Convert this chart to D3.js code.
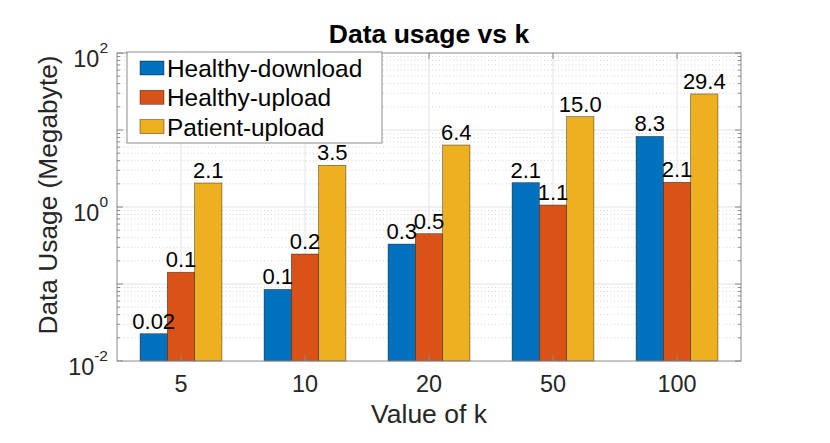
<!DOCTYPE html>
<html lang="en">
<head>
<meta charset="UTF-8">
<title>Data usage vs k</title>
<script src="https://cdnjs.cloudflare.com/ajax/libs/d3/7.8.5/d3.min.js"></script>
<style>
    body { margin: 0; padding: 0; background: #fff; }
    svg { display: block; font-family: "Liberation Sans", Arial, sans-serif; }
</style>
</head>
<body>
<div id="chart"></div>
<script>
    // values
    const categories = ["5", "10", "20", "50", "100"];
    const seriesNames = ["Healthy-download", "Healthy-upload", "Patient-upload"];
    const healthyDownload = [0.0226, 0.085, 0.33, 2.07, 8.25];
    const healthyUpload = [0.142, 0.245, 0.45, 1.06, 2.09];
    const patientUpload = [2.05, 3.47, 6.38, 14.9, 29.4];
    const downloadLabels = ["0.02", "0.1", "0.3", "2.1", "8.3"];
    const uploadLabels = ["0.1", "0.2", "0.5", "1.1", "2.1"];
    const patientLabels = ["2.1", "3.5", "6.4", "15.0", "29.4"];
    const yTickExps = [-2, 0, 2];
    const colors = ["#0072BD", "#D95319", "#EDB120"];

    const width = 830, height = 443;
    const pLeft = 117, pRight = 741, pTop = 53, pBottom = 361;

    const series = [healthyDownload, healthyUpload, patientUpload];
    const labels = [downloadLabels, uploadLabels, patientLabels];

    const svg = d3.select("#chart").append("svg")
        .attr("width", width)
        .attr("height", height);

    const x = d3.scaleBand()
        .domain(categories)
        .range([pLeft, pRight])
        .paddingInner(0)
        .paddingOuter(0.016);

    const groupW = x.step() * 0.66;
    const xs = d3.scaleBand()
        .domain(d3.range(series.length))
        .range([-groupW / 2, groupW / 2]);

    const y = d3.scaleLog()
        .domain([0.01, 100])
        .range([pBottom, pTop]);

    const cx = c => x(c) + x.bandwidth() / 2;

    // grid
    const grid = svg.append("g");
    const minor = [];
    for (let e = -2; e < 2; e++) {
        for (let m = 2; m <= 9; m++) minor.push(m * Math.pow(10, e));
    }
    grid.selectAll("line.minor").data(minor).join("line")
        .attr("class", "minor")
        .attr("x1", pLeft).attr("x2", pRight)
        .attr("y1", d => y(d)).attr("y2", d => y(d))
        .attr("stroke", "#b8b8b8")
        .attr("stroke-width", 0.6)
        .attr("stroke-dasharray", "1,2.5");
    grid.selectAll("line.major").data([0.1, 1, 10]).join("line")
        .attr("class", "major")
        .attr("x1", pLeft).attr("x2", pRight)
        .attr("y1", d => y(d)).attr("y2", d => y(d))
        .attr("stroke", "#e3e3e3")
        .attr("stroke-width", 1);
    grid.selectAll("line.vert").data(categories).join("line")
        .attr("class", "vert")
        .attr("x1", d => cx(d)).attr("x2", d => cx(d))
        .attr("y1", pTop).attr("y2", pBottom)
        .attr("stroke", "#e3e3e3")
        .attr("stroke-width", 1);

    // bars
    series.forEach((vals, si) => {
        const g = svg.append("g");
        g.selectAll("rect").data(vals).join("rect")
            .attr("x", (d, i) => cx(categories[i]) + xs(si))
            .attr("width", xs.bandwidth())
            .attr("y", d => y(d))
            .attr("height", d => pBottom - y(d))
            .attr("fill", colors[si])
            .attr("stroke", "rgba(0,0,0,0.55)")
            .attr("stroke-width", 0.7);
    });

    // axes box and ticks
    const axisColor = "#8a8a8a";
    svg.append("rect")
        .attr("x", pLeft).attr("y", pTop)
        .attr("width", pRight - pLeft).attr("height", pBottom - pTop)
        .attr("fill", "none")
        .attr("stroke", axisColor)
        .attr("stroke-width", 1);

    const ticks = svg.append("g").attr("stroke", axisColor).attr("stroke-width", 1);
    categories.forEach(c => {
        ticks.append("line").attr("x1", cx(c)).attr("x2", cx(c)).attr("y1", pBottom).attr("y2", pBottom - 6);
        ticks.append("line").attr("x1", cx(c)).attr("x2", cx(c)).attr("y1", pTop).attr("y2", pTop + 6);
    });
    yTickExps.concat([-1, 1]).forEach(e => {
        const yy = y(Math.pow(10, e));
        ticks.append("line").attr("x1", pLeft).attr("x2", pLeft + 6).attr("y1", yy).attr("y2", yy);
        ticks.append("line").attr("x1", pRight).attr("x2", pRight - 6).attr("y1", yy).attr("y2", yy);
    });
    minor.forEach(v => {
        const yy = y(v);
        ticks.append("line").attr("x1", pLeft).attr("x2", pLeft + 3).attr("y1", yy).attr("y2", yy);
        ticks.append("line").attr("x1", pRight).attr("x2", pRight - 3).attr("y1", yy).attr("y2", yy);
    });

    const textColor = "#262626";

    // x tick labels
    svg.append("g").selectAll("text").data(categories).join("text")
        .attr("x", d => cx(d))
        .attr("y", pBottom + 31)
        .attr("text-anchor", "middle")
        .attr("font-size", 23.4)
        .attr("fill", textColor)
        .text(d => d);

    // y tick labels 10^e
    const yl = svg.append("g").selectAll("text").data(yTickExps).join("text")
        .attr("x", 108)
        .attr("y", d => y(Math.pow(10, d)) + 14)
        .attr("text-anchor", "end")
        .attr("font-size", 23.4)
        .attr("fill", textColor);
    yl.append("tspan").text("10");
    yl.append("tspan")
        .attr("font-size", 15.5)
        .attr("dy", -14)
        .text(d => d);

    // bar value labels
    series.forEach((vals, si) => {
        svg.append("g").selectAll("text").data(vals).join("text")
            .attr("x", (d, i) => cx(categories[i]) + xs(si) + xs.bandwidth() / 2)
            .attr("y", d => y(d) - 5)
            .attr("text-anchor", "middle")
            .attr("font-size", 22)
            .attr("fill", "#000")
            .text((d, i) => labels[si][i]);
    });

    // axis titles
    svg.append("text")
        .attr("x", (pLeft + pRight) / 2)
        .attr("y", 423)
        .attr("text-anchor", "middle")
        .attr("font-size", 26.5)
        .attr("fill", textColor)
        .text("Value of k");

    svg.append("text")
        .attr("transform", "translate(57,195) rotate(-90)")
        .attr("text-anchor", "middle")
        .attr("font-size", 26.3)
        .attr("fill", textColor)
        .text("Data Usage (Megabyte)");

    svg.append("text")
        .attr("x", (pLeft + pRight) / 2)
        .attr("y", 43)
        .attr("text-anchor", "middle")
        .attr("font-size", 26.5)
        .attr("font-weight", "bold")
        .attr("fill", "#000")
        .text("Data usage vs k");

    // legend
    const legend = svg.append("g");
    legend.append("rect")
        .attr("x", 127).attr("y", 52)
        .attr("width", 255).attr("height", 91)
        .attr("fill", "#fff")
        .attr("stroke", axisColor)
        .attr("stroke-width", 1);
    seriesNames.forEach((name, i) => {
        const cy = 68 + i * 29.3;
        legend.append("rect")
            .attr("x", 140).attr("y", cy - 7)
            .attr("width", 24).attr("height", 14)
            .attr("fill", colors[i])
            .attr("stroke", "rgba(0,0,0,0.55)")
            .attr("stroke-width", 0.7);
        legend.append("text")
            .attr("x", 167)
            .attr("y", cy + 9)
            .attr("font-size", 24.4)
            .attr("fill", "#000")
            .text(name);
    });
</script>
</body>
</html>
